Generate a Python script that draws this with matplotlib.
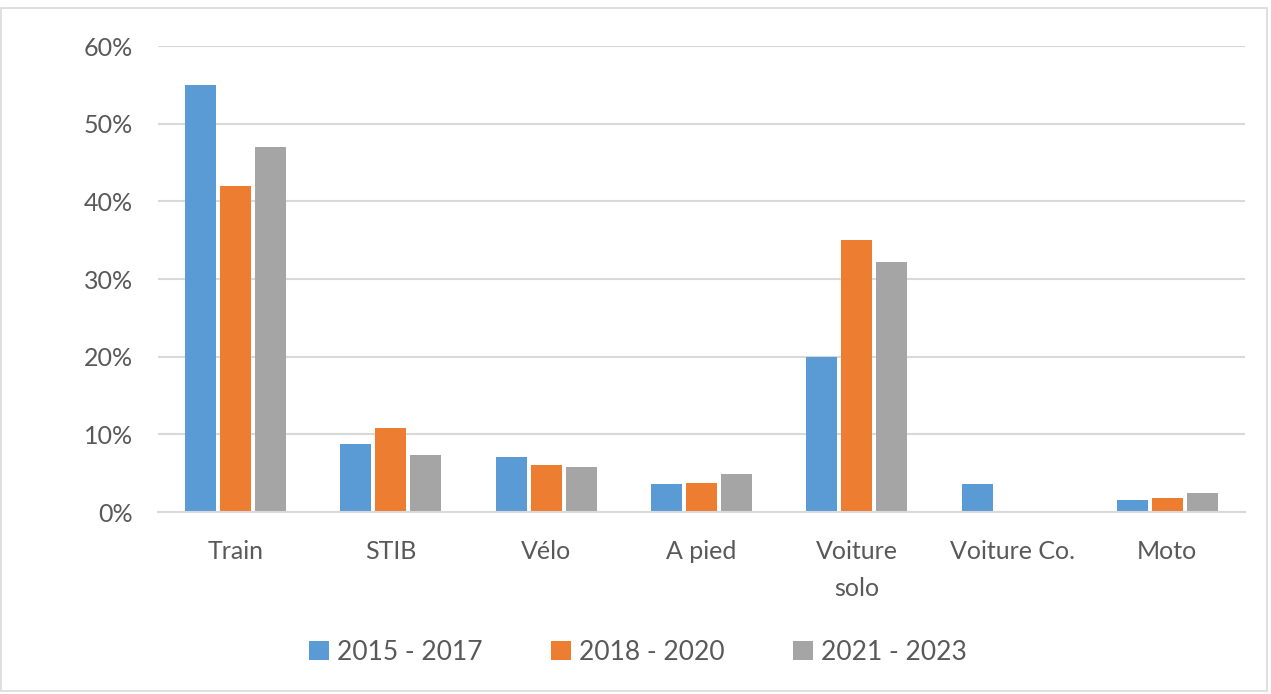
import numpy as np
import matplotlib.pyplot as plt
from matplotlib.patches import Rectangle

# mode share per period (fractions)
categories = ['Train', 'STIB', 'Vélo', 'A pied', 'Voiture\nsolo', 'Voiture Co.', 'Moto']
periods = ['2015 - 2017', '2018 - 2020', '2021 - 2023']
s2015 = [0.55, 0.088, 0.071, 0.036, 0.199, 0.036, 0.016]
s2018 = [0.42, 0.108, 0.060, 0.038, 0.350, 0.0, 0.018]
s2021 = [0.47, 0.073, 0.058, 0.049, 0.322, 0.0, 0.025]
colors = ['#5B9BD5', '#ED7D31', '#A5A5A5']

plt.rcParams['font.family'] = ['Lato', 'DejaVu Sans']
txt = '#595959'

fig = plt.figure(figsize=(12.71, 6.94), dpi=100)
ax = fig.add_axes([0.1243, 0.2622, 0.8552, 0.6715])

x = np.arange(len(categories))
w = 0.2
for i, (vals, lab) in enumerate(zip([s2015, s2018, s2021], periods)):
    ax.bar(x + (i - 1) * 0.225, vals, width=w, color=colors[i], label=lab, zorder=3)

ax.set_xlim(-0.5, len(categories) - 0.5)
ax.set_ylim(0, 0.6)
ax.set_yticks(np.arange(0, 0.61, 0.1))
ax.set_yticklabels(['%d%%' % round(v * 100) for v in np.arange(0, 0.61, 0.1)])
ax.set_xticks(x)
ax.set_xticklabels(categories, linespacing=1.75)
ax.tick_params(axis='both', length=0, labelsize=18, colors=txt)
ax.tick_params(axis='x', pad=20)
ax.tick_params(axis='y', pad=18)
ax.grid(axis='y', color='#D9D9D9', linewidth=1.5, zorder=0)
for s in ['top', 'right', 'left']:
    ax.spines[s].set_visible(False)
ax.spines['bottom'].set_color('#D9D9D9')
ax.spines['bottom'].set_linewidth(1.5)
ax.spines['bottom'].set_zorder(4)

leg = fig.legend(loc='center', bbox_to_anchor=(0.502, 0.06), ncol=3, frameon=False,
                 fontsize=19, handlelength=0.75, handleheight=0.75, handletextpad=0.3,
                 columnspacing=2.6)
for t in leg.get_texts():
    t.set_color(txt)

fig.patches.append(Rectangle((0.001, 0.004), 0.996, 0.984, transform=fig.transFigure,
                             fill=False, edgecolor='#D9D9D9', linewidth=1.2))

fig.savefig('out.png', dpi=100, facecolor='white')
